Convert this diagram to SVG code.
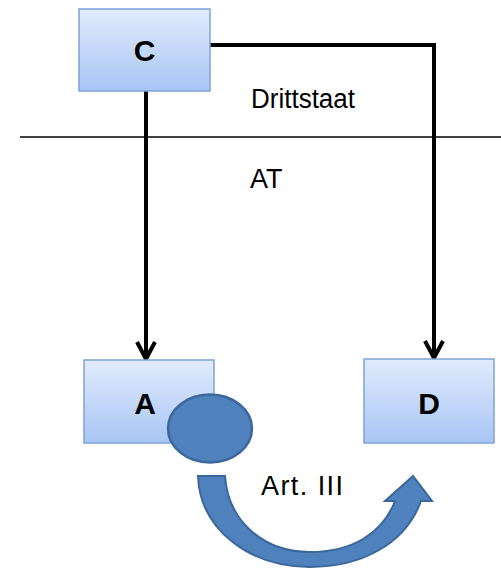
<svg xmlns="http://www.w3.org/2000/svg" width="501" height="569" viewBox="0 0 501 569">
  <style>
    .box { fill: url(#boxGrad); stroke: #7ea3d6; stroke-width: 1.5; }
    .lbl { font-family: "Liberation Sans", Arial, sans-serif; font-size: 30px; font-weight: bold; fill: #000; text-anchor: middle; }
    .txt { font-family: "Liberation Sans", Arial, sans-serif; font-size: 27px; fill: #000; }
    .conn { fill: none; stroke: #000; stroke-width: 4; }
  </style>
  <defs>
    <linearGradient id="boxGrad" x1="0" y1="0" x2="0" y2="1">
      <stop offset="0" stop-color="#e1ebfc"/>
      <stop offset="1" stop-color="#a8c5f4"/>
    </linearGradient>
    <marker id="chev" viewBox="-20 -11 22 22" refX="-2" refY="0" markerWidth="22" markerHeight="22" markerUnits="userSpaceOnUse" orient="auto">
      <path d="M -17 -9 L 0 0 L -17 9" fill="none" stroke="#000" stroke-width="4"/>
    </marker>
  </defs>

  <line x1="20" y1="137" x2="501" y2="137" stroke="#000" stroke-width="1.5"/>

  <g id="connectors">
    <path class="conn" d="M 146 91 L 146 357" marker-end="url(#chev)"/>
    <path class="conn" d="M 210 45 L 434 45 L 434 356" marker-end="url(#chev)"/>
  </g>

  <g id="node-C">
    <rect class="box" x="79" y="9" width="131" height="82"/>
    <text class="lbl" x="144.5" y="61">C</text>
  </g>

  <g id="node-A">
    <rect class="box" x="84" y="360" width="130" height="83"/>
    <text class="lbl" x="145" y="414">A</text>
  </g>

  <g id="node-D">
    <rect class="box" x="364" y="359" width="130" height="84"/>
    <text class="lbl" x="429" y="414">D</text>
  </g>

  <g id="circle">
    <ellipse cx="210" cy="428.5" rx="42" ry="34" fill="#4f81bd" stroke="#3b679b" stroke-width="2.5"/>
  </g>

  <g id="curved-arrow">
    <path d="M 198 476 L 225 476 C 228 520, 262 552, 310 552 C 350 552, 382 535, 395 501 L 385 501 L 413 476 L 432 501 L 421 501 C 405 545, 360 567, 310 567 C 250 567, 200 530, 198 476 Z" fill="#4f81bd" stroke="#3b679b" stroke-width="2"/>
  </g>

  <text class="txt" x="251" y="108" textLength="104" lengthAdjust="spacingAndGlyphs">Drittstaat</text>
  <text class="txt" x="250" y="188">AT</text>
  <text class="txt" x="261" y="495" textLength="82" lengthAdjust="spacing">Art. III</text>
</svg>
